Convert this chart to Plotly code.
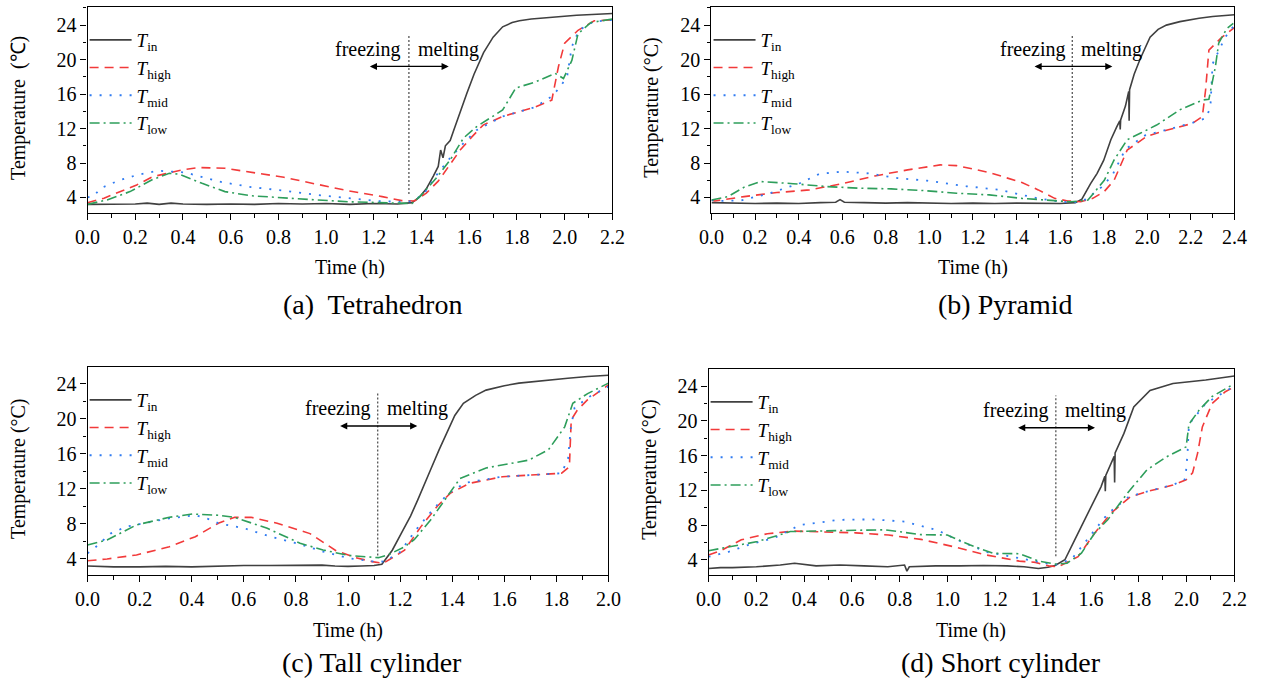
import plotly.graph_objects as go

# ---------------- data ----------------
# (a) Tetrahedron
a_in_t = [0, 0.1, 0.2, 0.25, 0.3, 0.35, 0.4, 0.5, 0.6, 0.7, 0.8, 0.9, 1.0, 1.1, 1.2, 1.3, 1.36, 1.39, 1.42, 1.45, 1.47, 1.48, 1.49, 1.5, 1.52, 1.535, 1.56, 1.59, 1.62, 1.66, 1.7, 1.74, 1.78, 1.81, 1.86, 1.95, 2.05, 2.2]
a_in_v = [3.2, 3.2, 3.25, 3.35, 3.2, 3.35, 3.25, 3.2, 3.25, 3.2, 3.3, 3.25, 3.3, 3.2, 3.3, 3.25, 3.4, 4.0, 5.0, 6.5, 7.6, 9.5, 8.6, 10.0, 10.6, 11.8, 13.8, 16.1, 18.3, 20.8, 22.6, 23.8, 24.3, 24.5, 24.7, 24.95, 25.15, 25.35]
a_high_t = [0, 0.027, 0.069, 0.206, 0.274, 0.398, 0.466, 0.576, 0.686, 0.823, 0.96, 1.097, 1.235, 1.317, 1.37, 1.42, 1.47, 1.508, 1.562, 1.61, 1.658, 1.74, 1.877, 1.946, 1.974, 2.0, 2.056, 2.124, 2.2]
a_high_v = [3.4, 3.6, 3.92, 5.46, 6.42, 7.2, 7.47, 7.39, 6.93, 6.35, 5.54, 4.76, 4.1, 3.64, 3.6, 4.5, 5.9, 7.4, 9.5, 11.0, 12.4, 13.4, 14.5, 15.3, 19.2, 21.9, 23.4, 24.5, 24.6]
a_mid_t = [0, 0.027, 0.055, 0.13, 0.206, 0.295, 0.41, 0.55, 0.686, 0.823, 0.96, 1.097, 1.207, 1.303, 1.36, 1.41, 1.46, 1.52, 1.576, 1.63, 1.74, 1.877, 1.95, 1.985, 2.01, 2.03, 2.06, 2.12, 2.2]
a_mid_v = [4.0, 4.2, 5.07, 5.96, 6.6, 7.1, 6.9, 5.85, 5.2, 4.8, 4.3, 3.92, 3.6, 3.5, 3.55, 4.4, 6.5, 8.6, 10.3, 11.8, 13.4, 14.5, 15.8, 17.0, 18.0, 21.5, 23.4, 24.4, 24.6]
a_low_t = [0, 0.082, 0.178, 0.274, 0.343, 0.384, 0.48, 0.576, 0.686, 0.823, 0.96, 1.097, 1.3, 1.36, 1.4, 1.46, 1.52, 1.576, 1.63, 1.74, 1.795, 1.877, 1.96, 1.995, 2.03, 2.056, 2.11, 2.2]
a_low_v = [3.2, 3.72, 4.68, 6.1, 6.8, 6.7, 5.65, 4.68, 4.2, 4.0, 3.72, 3.5, 3.3, 3.3, 4.3, 6.2, 8.35, 10.9, 12.2, 14.15, 16.7, 17.4, 18.4, 17.8, 19.9, 23.0, 24.3, 24.7]

# (b) Pyramid
b_in_t = [0, 0.1, 0.2, 0.3, 0.4, 0.5, 0.57, 0.59, 0.61, 0.7, 0.8, 0.9, 1.0, 1.1, 1.2, 1.3, 1.4, 1.5, 1.6, 1.67, 1.7, 1.74, 1.77, 1.8, 1.833, 1.86, 1.874, 1.876, 1.878, 1.9, 1.915, 1.917, 1.919, 1.94, 1.968, 2.013, 2.05, 2.088, 2.15, 2.238, 2.3, 2.4]
b_in_v = [3.4, 3.35, 3.3, 3.35, 3.3, 3.4, 3.45, 3.75, 3.45, 3.4, 3.35, 3.4, 3.35, 3.3, 3.35, 3.3, 3.35, 3.35, 3.3, 3.4, 3.8, 5.6, 6.8, 8.3, 10.7, 12.2, 12.9, 11.9, 13.0, 14.6, 16.3, 12.9, 16.5, 18.3, 20.1, 22.6, 23.5, 24.0, 24.4, 24.8, 25.0, 25.2]
b_high_t = [0, 0.015, 0.15, 0.3, 0.45, 0.6, 0.75, 0.9, 1.05, 1.125, 1.275, 1.425, 1.5, 1.575, 1.635, 1.695, 1.75, 1.803, 1.848, 1.908, 1.998, 2.088, 2.208, 2.253, 2.268, 2.283, 2.343, 2.4]
b_high_v = [3.7, 3.6, 4.1, 4.57, 4.88, 5.6, 6.5, 7.2, 7.78, 7.7, 6.9, 5.73, 4.88, 3.9, 3.6, 3.5, 3.9, 4.7, 6.0, 9.5, 11.1, 11.8, 12.6, 13.4, 16.5, 21.1, 22.6, 23.7]
b_mid_t = [0, 0.045, 0.135, 0.27, 0.405, 0.495, 0.6, 0.72, 0.855, 0.99, 1.17, 1.32, 1.425, 1.5, 1.575, 1.66, 1.72, 1.79, 1.84, 1.9, 1.99, 2.09, 2.2, 2.27, 2.29, 2.3, 2.358, 2.4]
b_mid_v = [3.7, 3.6, 3.65, 4.5, 5.65, 6.73, 7.0, 6.8, 6.24, 5.95, 5.3, 4.9, 4.3, 3.9, 3.6, 3.4, 3.8, 5.2, 6.6, 9.6, 11.2, 11.9, 12.6, 13.2, 14.5, 19.5, 22.6, 24.0]
b_low_t = [0, 0.075, 0.15, 0.225, 0.375, 0.525, 0.675, 0.825, 0.975, 1.125, 1.275, 1.425, 1.575, 1.65, 1.728, 1.803, 1.848, 1.908, 1.968, 2.043, 2.148, 2.253, 2.283, 2.313, 2.328, 2.365, 2.395]
b_low_v = [3.7, 4.1, 5.2, 5.85, 5.6, 5.27, 5.08, 5.0, 4.8, 4.5, 4.3, 3.9, 3.63, 3.5, 3.7, 6.0, 8.35, 10.7, 11.45, 12.4, 14.15, 15.3, 15.4, 19.2, 21.9, 23.6, 24.2]

# (c) Tall cylinder
c_in_t = [0, 0.1, 0.2, 0.3, 0.4, 0.5, 0.6, 0.7, 0.8, 0.9, 0.95, 1.0, 1.05, 1.1, 1.13, 1.17, 1.204, 1.24, 1.267, 1.3, 1.317, 1.35, 1.38, 1.41, 1.443, 1.49, 1.53, 1.6, 1.656, 1.75, 1.844, 1.92, 2.0]
c_in_v = [3.2, 3.1, 3.1, 3.15, 3.1, 3.2, 3.25, 3.25, 3.3, 3.3, 3.2, 3.15, 3.2, 3.25, 3.4, 5.0, 6.9, 8.9, 10.7, 12.9, 14.2, 16.5, 18.4, 20.4, 21.8, 22.7, 23.3, 23.8, 24.1, 24.4, 24.65, 24.85, 25.0]
c_high_t = [0, 0.075, 0.188, 0.314, 0.414, 0.502, 0.565, 0.628, 0.728, 0.854, 0.954, 1.03, 1.092, 1.135, 1.217, 1.28, 1.342, 1.392, 1.467, 1.593, 1.82, 1.85, 1.857, 1.88, 1.92, 2.0]
c_high_v = [3.8, 4.0, 4.46, 5.4, 6.55, 8.08, 8.76, 8.76, 8.08, 6.9, 4.95, 4.15, 3.7, 3.5, 5.0, 7.7, 10.0, 11.5, 12.65, 13.4, 13.8, 14.55, 19.9, 21.0, 22.2, 23.9]
c_mid_t = [0, 0.025, 0.088, 0.15, 0.314, 0.414, 0.477, 0.502, 0.603, 0.703, 0.803, 0.904, 1.004, 1.092, 1.14, 1.2, 1.26, 1.33, 1.39, 1.45, 1.59, 1.82, 1.845, 1.855, 1.87, 1.93, 2.0]
c_mid_v = [4.65, 5.2, 6.9, 7.7, 8.65, 9.0, 8.45, 8.08, 7.5, 6.55, 5.8, 4.85, 4.07, 3.74, 3.7, 4.8, 7.3, 9.8, 11.6, 12.7, 13.4, 13.8, 15.5, 18.9, 21.3, 22.6, 23.7]
c_low_t = [0, 0.075, 0.188, 0.314, 0.402, 0.502, 0.565, 0.69, 0.816, 0.904, 1.004, 1.092, 1.117, 1.154, 1.217, 1.254, 1.317, 1.38, 1.43, 1.53, 1.694, 1.77, 1.832, 1.863, 1.92, 2.0]
c_low_v = [5.6, 6.17, 7.9, 8.76, 9.14, 9.0, 8.76, 7.5, 5.8, 5.03, 4.4, 4.15, 4.15, 4.46, 5.4, 6.2, 8.45, 11.1, 13.2, 14.4, 15.3, 16.5, 19.1, 21.8, 22.9, 24.1]

# (d) Short cylinder
d_in_t = [0, 0.05, 0.1, 0.2, 0.3, 0.36, 0.45, 0.55, 0.65, 0.75, 0.82, 0.83, 0.84, 0.95, 1.05, 1.15, 1.25, 1.32, 1.38, 1.42, 1.45, 1.491, 1.532, 1.587, 1.642, 1.658, 1.66, 1.662, 1.697, 1.699, 1.701, 1.738, 1.779, 1.847, 1.943, 2.08, 2.2]
d_in_v = [3.0, 3.1, 3.1, 3.2, 3.4, 3.6, 3.3, 3.4, 3.3, 3.2, 3.4, 2.7, 3.2, 3.3, 3.3, 3.35, 3.3, 3.2, 3.0, 3.15, 3.35, 4.0, 6.3, 9.35, 12.4, 13.6, 11.9, 13.7, 15.9, 12.9, 16.3, 18.55, 21.6, 23.5, 24.3, 24.7, 25.15]
d_high_t = [0, 0.055, 0.137, 0.246, 0.356, 0.479, 0.616, 0.753, 0.889, 1.026, 1.163, 1.3, 1.368, 1.423, 1.464, 1.546, 1.615, 1.683, 1.765, 1.834, 1.943, 1.998, 2.025, 2.046, 2.066, 2.107, 2.162, 2.2]
d_high_v = [4.55, 5.1, 6.3, 7.0, 7.3, 7.2, 7.1, 6.85, 6.35, 5.5, 4.55, 3.85, 3.7, 3.3, 3.2, 4.35, 7.05, 9.35, 11.25, 11.85, 12.6, 13.2, 14.0, 16.25, 19.3, 22.0, 23.35, 23.9]
d_mid_t = [0, 0.082, 0.164, 0.274, 0.383, 0.547, 0.684, 0.821, 0.958, 1.04, 1.163, 1.3, 1.396, 1.45, 1.52, 1.6, 1.67, 1.76, 1.84, 1.95, 1.995, 2.004, 2.01, 2.08, 2.175, 2.2]
d_mid_v = [4.35, 4.9, 5.7, 6.5, 8.0, 8.6, 8.65, 8.4, 7.4, 6.3, 4.9, 4.15, 3.65, 3.4, 4.1, 6.9, 9.3, 11.3, 11.9, 12.7, 13.3, 16.25, 19.6, 22.0, 23.6, 23.9]
d_low_t = [0, 0.082, 0.205, 0.342, 0.479, 0.616, 0.739, 0.889, 0.999, 1.095, 1.19, 1.3, 1.382, 1.45, 1.5, 1.56, 1.615, 1.67, 1.752, 1.834, 1.916, 1.998, 2.01, 2.053, 2.107, 2.189]
d_low_v = [5.05, 5.5, 6.1, 7.25, 7.35, 7.4, 7.45, 6.9, 6.85, 5.7, 4.75, 4.7, 3.85, 3.5, 3.6, 4.75, 7.05, 8.6, 11.65, 14.35, 15.85, 17.0, 19.6, 21.25, 22.8, 24.1]

panel_titles = ["(a)  Tetrahedron", "(b) Pyramid", "(c) Tall cylinder", "(d) Short cylinder"]
series_names = ["<i>T</i><sub>in</sub>", "<i>T</i><sub>high</sub>", "<i>T</i><sub>mid</sub>", "<i>T</i><sub>low</sub>"]
x_max = [2.2, 2.4, 2.0, 2.2]
y_titles = ["Temperature  (℃)", "Temperature (°C)", "Temperature (°C)", "Temperature (°C)"]
# phase boundary time, arrow extent
boundary_t = [1.347, 1.656, 1.114, 1.453]
arrow_left = [1.177, 1.476, 0.964, 1.289]
arrow_right = [1.514, 1.84, 1.266, 1.617]
freeze_x = [1.177, 1.474, 0.962, 1.285]
melt_x = [1.512, 1.836, 1.268, 1.618]

data = [
    [(a_in_t, a_in_v), (a_high_t, a_high_v), (a_mid_t, a_mid_v), (a_low_t, a_low_v)],
    [(b_in_t, b_in_v), (b_high_t, b_high_v), (b_mid_t, b_mid_v), (b_low_t, b_low_v)],
    [(c_in_t, c_in_v), (c_high_t, c_high_v), (c_mid_t, c_mid_v), (c_low_t, c_low_v)],
    [(d_in_t, d_in_v), (d_high_t, d_high_v), (d_mid_t, d_mid_v), (d_low_t, d_low_v)],
]

# ---------------- style ----------------
W, H = 1266, 681
FONT = "Liberation Serif, Times New Roman, serif"
styles = [
    dict(color="#404040", width=1.6, dash="solid"),
    dict(color="#F23A3A", width=1.6, dash="9px,6px"),
    dict(color="#2F7BF2", width=1.8, dash="2px,8px"),
    dict(color="#2E9E5B", width=1.6, dash="10px,4px,2px,4px"),
]
# pixel boxes: left, right, top, bottom
boxes = [(77, 612, 7, 213), (713, 1246, 7, 213), (77, 608, 367, 575), (710, 1246, 369, 575)]
y_ranges = [[2.2, 26.1], [2.2, 26.1], [2.17, 25.94], [2.25, 25.96]]
caption_x = [367, 1013, 367, 1008]
caption_y = [305, 305, 662, 662]
ytitle_x = [6, 651, 6, 649]

fig = go.Figure()
annotations = []
shapes = []
layout = {}

for i in range(4):
    L, R, T, B = boxes[i]
    xs = "x" if i == 0 else f"x{i+1}"
    ys = "y" if i == 0 else f"y{i+1}"
    lg = "legend" if i == 0 else f"legend{i+1}"
    for j in range(4):
        t, v = data[i][j]
        fig.add_trace(go.Scatter(x=t, y=v, mode="lines", name=series_names[j],
                                 line=styles[j], xaxis=xs, yaxis=ys, legend=lg,
                                 showlegend=True))
    xa = "xaxis" if i == 0 else f"xaxis{i+1}"
    ya = "yaxis" if i == 0 else f"yaxis{i+1}"
    layout[xa] = dict(domain=[L / W, R / W], anchor=ys, range=[0, x_max[i]],
                      dtick=0.2, tick0=0, tickformat=".1f", ticks="outside", ticklen=6,
                      tickwidth=1.2, tickcolor="black",
                      minor=dict(ticks="outside", ticklen=3.5, dtick=0.1, tick0=0, tickcolor="black", tickwidth=1),
                      showline=True, linecolor="black", linewidth=1.3, mirror=True,
                      showgrid=False, zeroline=False,
                      tickfont=dict(family=FONT, size=20, color="black"))
    layout[ya] = dict(domain=[1 - B / H, 1 - T / H], anchor=xs, range=y_ranges[i],
                      dtick=4, tick0=0, ticks="outside", ticklen=6, tickwidth=1.2, tickcolor="black",
                      minor=dict(ticks="outside", ticklen=3.5, dtick=2, tick0=0, tickcolor="black", tickwidth=1),
                      showline=True, linecolor="black", linewidth=1.3, mirror=True,
                      showgrid=False, zeroline=False,
                      tickfont=dict(family=FONT, size=20, color="black"))
    layout[lg] = dict(x=(L - 3) / W, y=1 - (T + 14) / H, xanchor="left", yanchor="top",
                      bgcolor="rgba(0,0,0,0)", borderwidth=0, tracegroupgap=0,
                      itemwidth=42,
                      font=dict(family=FONT, size=19, color="black"))

    # axis titles
    annotations.append(dict(text="Time (h)", x=(L + R) / 2 / W, y=1 - (B + 55) / H,
                            xref="paper", yref="paper", showarrow=False,
                            xanchor="center", yanchor="middle",
                            font=dict(family=FONT, size=20, color="black")))
    annotations.append(dict(text=y_titles[i], x=ytitle_x[i] / W, y=1 - ((T + B) / 2 - 2) / H,
                            xref="paper", yref="paper", showarrow=False, textangle=-90,
                            xanchor="center", yanchor="middle",
                            font=dict(family=FONT, size=20, color="black")))
    # panel caption
    annotations.append(dict(text=panel_titles[i], x=caption_x[i] / W,
                            y=1 - caption_y[i] / H, xref="paper", yref="paper", showarrow=False,
                            xanchor="center", yanchor="middle",
                            font=dict(family=FONT, size=28, color="black")))
    # boundary line
    shapes.append(dict(type="line", xref=xs, yref=ys, x0=boundary_t[i], x1=boundary_t[i],
                       y0=4.4, y1=22.9, line=dict(color="#555555", width=1.3, dash="2px,2px")))
    # arrow
    annotations.append(dict(x=arrow_right[i], y=19.2, ax=arrow_left[i], ay=19.2,
                            xref=xs, yref=ys, axref=xs, ayref=ys, text="",
                            showarrow=True, arrowhead=2, arrowside="end+start",
                            arrowsize=1.1, arrowwidth=1.3, arrowcolor="black"))
    annotations.append(dict(text="freezing", x=freeze_x[i], y=21.2, xref=xs, yref=ys,
                            showarrow=False, xanchor="center", yanchor="middle",
                            font=dict(family=FONT, size=20, color="black")))
    annotations.append(dict(text="melting", x=melt_x[i], y=21.2, xref=xs, yref=ys,
                            showarrow=False, xanchor="center", yanchor="middle",
                            font=dict(family=FONT, size=20, color="black")))

fig.update_layout(width=W, height=H, margin=dict(l=0, r=0, t=0, b=0),
                  paper_bgcolor="white", plot_bgcolor="white",
                  annotations=annotations, shapes=shapes,
                  font=dict(family=FONT, color="black"), **layout)

fig.write_html("out.html")
